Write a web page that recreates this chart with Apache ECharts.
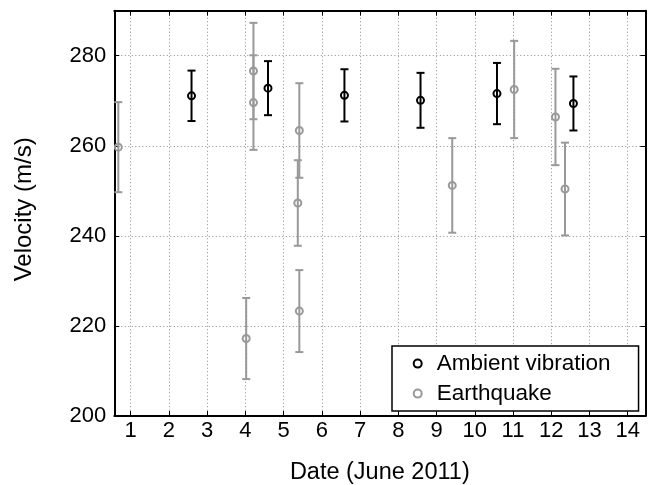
<!DOCTYPE html>
<html>
<head>
<meta charset="utf-8">
<script src="https://cdn.jsdelivr.net/npm/echarts@6/dist/echarts.min.js"></script>
<style>html,body{margin:0;padding:0;background:#fff;}#c{width:649px;height:485px;}</style>
</head>
<body>
<div id="c"></div>
<script>
// Data (Date in June 2011, velocity m/s, error half-width)
const ambientDates = [2.59, 4.59, 6.59, 8.58, 10.58, 12.58];
const ambientVel   = [271.1, 272.8, 271.2, 270.1, 271.6, 269.4];
const ambientErr   = [5.6, 6.0, 5.8, 6.1, 6.8, 6.0];

const quakeDates = [0.675, 4.02, 4.21, 4.21, 5.37, 5.41, 5.41, 9.41, 11.03, 12.11, 12.36];
const quakeVel   = [259.7, 217.2, 276.6, 269.6, 247.3, 263.4, 223.3, 251.2, 272.5, 266.4, 250.4];
const quakeErr   = [10.0, 9.0, 10.7, 10.5, 9.5, 10.5, 9.1, 10.5, 10.8, 10.7, 10.3];

const xTicks = [1,2,3,4,5,6,7,8,9,10,11,12,13,14];
const yTicks = [200, 220, 240, 260, 280];

const FONT = 'Liberation Sans, Arial, Helvetica, sans-serif';
const BLACK = '#000000';
const GRAY = '#999999';

function zip(xs, ys, es) { return xs.map((x, i) => [x, ys[i], es[i]]); }

function makeRender(color) {
  return function (params, api) {
    const x = api.value(0), y = api.value(1), e = api.value(2);
    const c = api.coord([x, y]);
    const hi = api.coord([x, y + e]);
    const lo = api.coord([x, y - e]);
    const cw = 4;
    const st = { stroke: color, lineWidth: 2, fill: null };
    return {
      type: 'group',
      children: [
        { type: 'line', shape: { x1: c[0], y1: hi[1], x2: c[0], y2: lo[1] }, style: st },
        { type: 'line', shape: { x1: c[0] - cw, y1: hi[1], x2: c[0] + cw, y2: hi[1] }, style: st },
        { type: 'line', shape: { x1: c[0] - cw, y1: lo[1], x2: c[0] + cw, y2: lo[1] }, style: st },
        { type: 'circle', shape: { cx: c[0], cy: c[1], r: 3.5 }, style: { stroke: color, lineWidth: 2, fill: null } }
      ]
    };
  };
}

const chart = echarts.init(document.getElementById('c'), null, { renderer: 'canvas' });

const commonX = { type: 'value', min: 0.57, max: 14.46 };
const commonY = { type: 'value', min: 200, max: 290 };

chart.setOption({
  backgroundColor: '#ffffff',
  animation: false,
  grid: { left: 114.3, right: 3.7, top: 10.7, bottom: 69, containLabel: false, outerBoundsMode: 'none' },
  legend: {
    orient: 'vertical',
    left: 392,
    top: 346,
    padding: [5.6, 28, 5.4, 20.7],
    itemWidth: 8,
    itemHeight: 8,
    itemGap: 6,
    backgroundColor: '#ffffff',
    borderColor: '#000000',
    borderWidth: 1.5,
    borderRadius: 0,
    textStyle: { fontFamily: FONT, fontSize: 22.5, color: '#000', lineHeight: 24, padding: [0, 0, 0, 10] },
    data: [
      { name: 'Ambient vibration', icon: 'circle', itemStyle: { color: 'rgba(0,0,0,0)', borderColor: BLACK, borderWidth: 2 } },
      { name: 'Earthquake', icon: 'circle', itemStyle: { color: 'rgba(0,0,0,0)', borderColor: GRAY, borderWidth: 2 } }
    ],
    selectedMode: false,
    z: 10
  },
  xAxis: [
    Object.assign({}, commonX, {
      position: 'bottom',
      name: 'Date (June 2011)',
      nameLocation: 'middle',
      nameGap: 44.5,
      nameTextStyle: { fontFamily: FONT, fontSize: 23.5, color: '#000' },
      axisLine: { show: true, onZero: false, lineStyle: { color: '#000', width: 2 } },
      axisTick: { show: true, inside: true, length: 5, customValues: xTicks, lineStyle: { color: '#000', width: 1 } },
      axisLabel: { show: true, customValues: xTicks, margin: 4, fontFamily: FONT, fontSize: 22, color: '#000' },
      splitLine: { show: true, lineStyle: { color: '#8c8c8c', width: 1, type: [1, 2.5] } }
    }),
    Object.assign({}, commonX, {
      position: 'top',
      axisLine: { show: true, onZero: false, lineStyle: { color: '#000', width: 2 } },
      axisTick: { show: true, inside: true, length: 5, customValues: xTicks, lineStyle: { color: '#000', width: 1 } },
      axisLabel: { show: false },
      splitLine: { show: false }
    })
  ],
  yAxis: [
    Object.assign({}, commonY, {
      position: 'left',
      name: 'Velocity (m/s)',
      nameLocation: 'middle',
      nameGap: 78.3,
      nameRotate: 90,
      nameTextStyle: { fontFamily: FONT, fontSize: 24, color: '#000', padding: [0, 0, 0, 8] },
      axisLine: { show: true, onZero: false, lineStyle: { color: '#000', width: 2 } },
      axisTick: { show: true, inside: true, length: 5, customValues: yTicks, lineStyle: { color: '#000', width: 1 } },
      axisLabel: { show: true, customValues: yTicks, margin: 8, fontFamily: FONT, fontSize: 22, color: '#000' },
      splitLine: { show: true, lineStyle: { color: '#8c8c8c', width: 1, type: [1, 2.5] } }
    }),
    Object.assign({}, commonY, {
      position: 'right',
      axisLine: { show: true, onZero: false, lineStyle: { color: '#000', width: 2 } },
      axisTick: { show: true, inside: true, length: 5, customValues: yTicks, lineStyle: { color: '#000', width: 1 } },
      axisLabel: { show: false },
      splitLine: { show: false }
    })
  ],
  series: [
    {
      name: 'Ambient vibration',
      type: 'custom',
      xAxisIndex: 0,
      yAxisIndex: 0,
      renderItem: makeRender(BLACK),
      data: zip(ambientDates, ambientVel, ambientErr),
      encode: { x: 0, y: [1] },
      clip: false,
      z: 3
    },
    {
      name: 'Earthquake',
      type: 'custom',
      xAxisIndex: 0,
      yAxisIndex: 0,
      renderItem: makeRender(GRAY),
      data: zip(quakeDates, quakeVel, quakeErr),
      encode: { x: 0, y: [1] },
      clip: false,
      z: 3
    }
  ]
});
</script>
</body>
</html>
